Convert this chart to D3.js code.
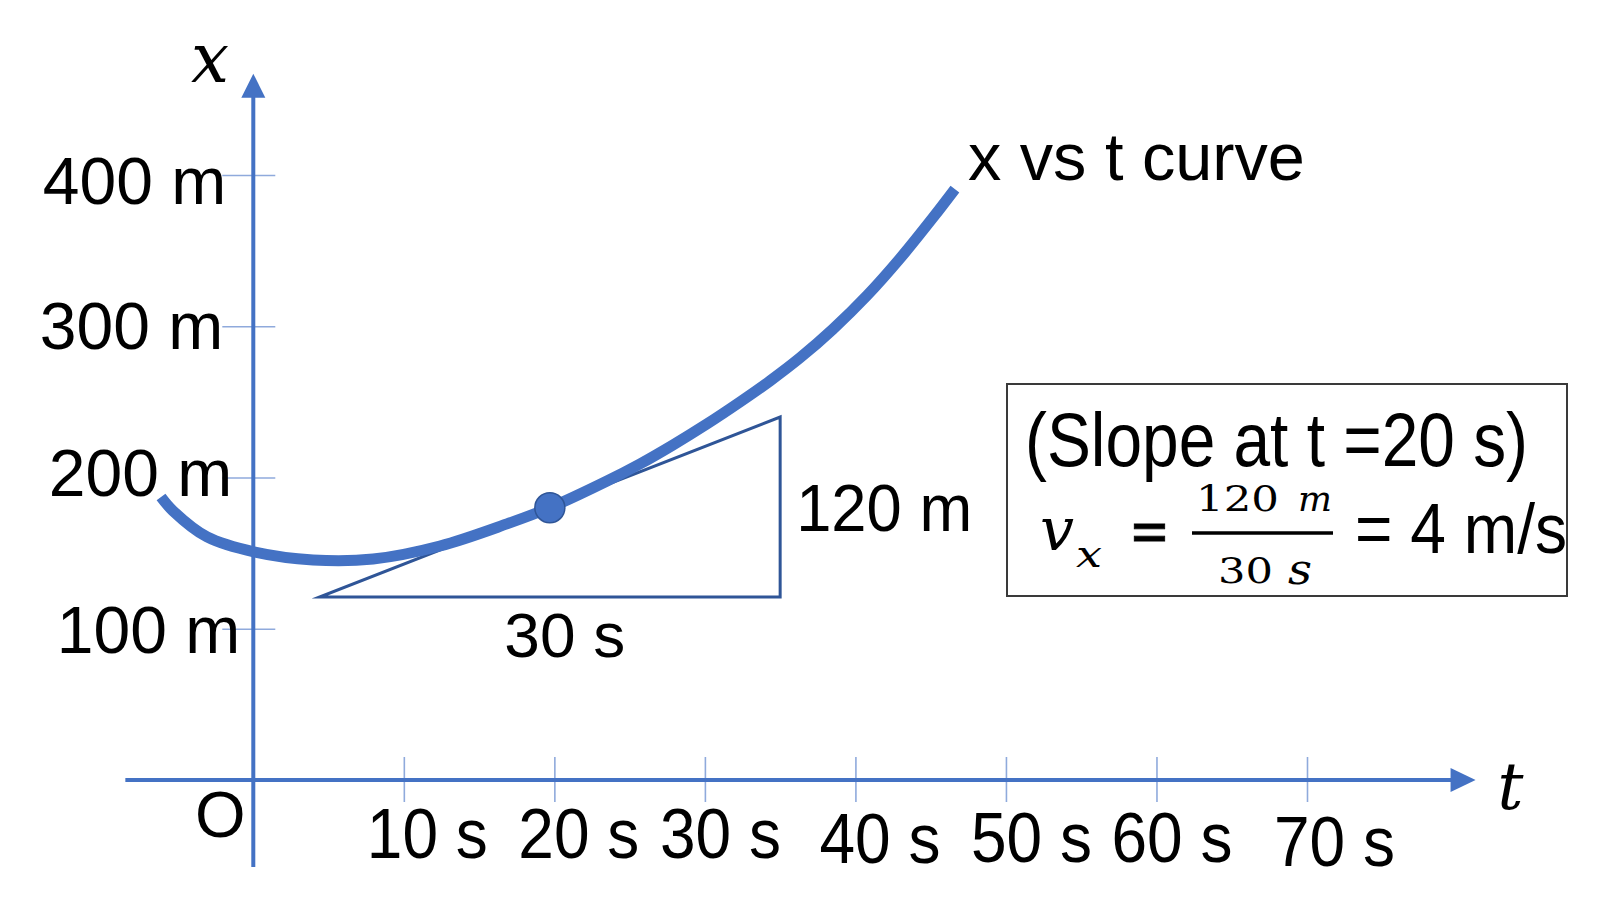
<!DOCTYPE html>
<html><head><meta charset="utf-8">
<script src="https://cdn.jsdelivr.net/npm/d3@7/dist/d3.min.js"></script>
<style>html,body{margin:0;padding:0;background:#fff;}svg{display:block;}</style>
</head><body>
<svg id="chart" width="1614" height="922"></svg>
<script>
// ---- data ----
const curveT = [-6.13, -5.33, -3.07, 0.11, 3.97, 7.96, 12.4, 16.85, 19.64, 23.5, 25.68, 27.88, 30.14, 32.33, 34.32, 36.32, 38.51, 40.77, 42.96, 45.15, 46.61];
const curveX = [187.1, 177.9, 160.7, 150.7, 145.5, 146.1, 154.7, 169.3, 179.8, 197.7, 208.9, 221.5, 235.4, 249.9, 263.8, 279.1, 298.1, 320.3, 344.8, 371.8, 390.7];
const tickT = [10, 20, 30, 40, 50, 60, 70];
const tickTLabels = ["10 s", "20 s", "30 s", "40 s", "50 s", "60 s", "70 s"];
const tickX = [100, 200, 300, 400];
const tickXLabels = ["100 m", "200 m", "300 m", "400 m"];
const triT = [4.4, 35, 35];
const triX = [121, 121, 240];
const pointT = [19.7];
const pointX = [180];
const curveLabel = "x vs t curve";
const riseLabel = "120 m";
const runLabel = "30 s";
const slopeTitle = "(Slope at t =20 s)";
const resultText = "= 4 m/s";
// axis extents (data units)
const tExtent = [-8.5, 81.2];
const xExtent = [-57.5, 467];

// ---- layout (hand-placed label nudges, px) ----
const tLabelNudge = [[23, 78], [24, 78], [15, 78], [24, 83], [25, 82], [15, 82], [27, 86]];
const xLabelNudge = [[-13, 24], [-21, 17.5], [-30, 22], [-27, 28]];

const svg = d3.select("#chart");
const BLUE = "#4472C4", TICK = "#8FAADC", DARK = "#2F5597";
const SANS = "'Liberation Sans', Arial, Helvetica, sans-serif";
const SERIF = "'DejaVu Serif', 'Liberation Serif', serif";

const x = d3.scaleLinear().domain([0, 70]).range([253.3, 1307]);
const y = d3.scaleLinear().domain([0, 400]).range([780, 175]);

// ---- x axis (t) ----
const gx = svg.append("g").attr("transform", `translate(0,${y(0)})`)
  .call(d3.axisBottom(x).tickValues(tickT).tickFormat((d, i) => tickTLabels[i]).tickSize(22));
gx.select(".domain").remove();
gx.selectAll(".tick line").attr("y1", -23).attr("stroke", TICK).attr("stroke-width", 1.6);
gx.selectAll(".tick text").attr("x", (d, i) => tLabelNudge[i][0]).attr("y", (d, i) => tLabelNudge[i][1]).attr("dy", 0)
  .attr("font-family", SANS).attr("font-size", 70).attr("fill", "#000")
  .attr("text-anchor", "middle").attr("textLength", 121).attr("lengthAdjust", "spacingAndGlyphs");

// ---- y axis (x) ----
const gy = svg.append("g").attr("transform", `translate(${x(0)},0)`)
  .call(d3.axisLeft(y).tickValues(tickX).tickFormat((d, i) => tickXLabels[i]).tickSize(31));
gy.select(".domain").remove();
gy.selectAll(".tick line").attr("x1", 22).attr("stroke", TICK).attr("stroke-width", 1.6);
gy.selectAll(".tick text").attr("x", (d, i) => xLabelNudge[i][0]).attr("y", (d, i) => xLabelNudge[i][1]).attr("dy", 0)
  .attr("font-family", SANS).attr("font-size", 66).attr("fill", "#000").attr("text-anchor", "end");

// axis lines with arrows
const xa0 = x(tExtent[0]), xa1 = x(tExtent[1]);
svg.append("line").attr("x1", xa0).attr("x2", xa1 - 24).attr("y1", y(0)).attr("y2", y(0))
  .attr("stroke", BLUE).attr("stroke-width", 4);
svg.append("path").attr("d", `M${xa1},${y(0)} L${xa1 - 25},${y(0) - 12} L${xa1 - 25},${y(0) + 12} Z`).attr("fill", BLUE);
const ya0 = y(xExtent[0]), ya1 = y(xExtent[1]);
svg.append("line").attr("x1", x(0)).attr("x2", x(0)).attr("y1", ya0).attr("y2", ya1 + 23)
  .attr("stroke", BLUE).attr("stroke-width", 4);
svg.append("path").attr("d", `M${x(0)},${ya1} L${x(0) - 12},${ya1 + 24} L${x(0) + 12},${ya1 + 24} Z`).attr("fill", BLUE);

// axis titles and origin
svg.append("text").attr("x", 191).attr("y", 82).attr("font-family", SERIF).attr("font-style", "italic")
  .attr("font-size", 70).attr("textLength", 38).attr("lengthAdjust", "spacingAndGlyphs").text("x");
svg.append("text").attr("x", xa1 + 22).attr("y", 809).attr("font-family", SERIF).attr("font-style", "italic")
  .attr("font-size", 66).attr("textLength", 26).attr("lengthAdjust", "spacingAndGlyphs").text("t");
svg.append("text").attr("x", x(0) - 33).attr("y", 837).attr("font-family", SANS).attr("font-size", 65)
  .attr("text-anchor", "middle").text("O");

// ---- tangent triangle ----
const tri = triT.map((t, i) => [x(t), y(triX[i])]);
svg.append("path").attr("d", d3.line()(tri) + "Z").attr("fill", "none").attr("stroke", DARK)
  .attr("stroke-width", 3).attr("stroke-linejoin", "miter").attr("stroke-miterlimit", 20);

// ---- curve ----
const curveData = curveT.map((t, i) => ({ t, x: curveX[i] }));
svg.append("path").datum(curveData)
  .attr("d", d3.line().x(d => x(d.t)).y(d => y(d.x)).curve(d3.curveCatmullRom.alpha(0.5)))
  .attr("fill", "none").attr("stroke", BLUE).attr("stroke-width", 11).attr("stroke-linecap", "butt");

// point
svg.selectAll("circle.pt").data(pointT).enter().append("circle").attr("class", "pt")
  .attr("cx", d => x(d)).attr("cy", (d, i) => y(pointX[i])).attr("r", 15)
  .attr("fill", BLUE).attr("stroke", DARK).attr("stroke-width", 1.5);

// labels
const last = curveData[curveData.length - 1];
svg.append("text").attr("x", x(last.t) + 13).attr("y", y(last.x) - 9).attr("font-family", SANS)
  .attr("font-size", 66).attr("textLength", 337).attr("lengthAdjust", "spacingAndGlyphs").text(curveLabel);
const triR = x(triT[1]), triB = y(triX[0]), triTop = y(triX[2]), triL = x(triT[0]);
svg.append("text").attr("x", triR + 16).attr("y", (triB + triTop) / 2 + 24).attr("font-family", SANS)
  .attr("font-size", 66).attr("textLength", 176).attr("lengthAdjust", "spacingAndGlyphs").text(riseLabel);
svg.append("text").attr("x", (triL + triR) / 2 + 15).attr("y", triB + 60).attr("font-family", SANS)
  .attr("font-size", 63).attr("text-anchor", "middle").attr("textLength", 121).attr("lengthAdjust", "spacingAndGlyphs").text(runLabel);

// ---- formula box ----
const box = svg.append("g");
box.append("rect").attr("x", 1007).attr("y", 384).attr("width", 560).attr("height", 212)
  .attr("fill", "none").attr("stroke", "#3a3a3a").attr("stroke-width", 2);
box.append("text").attr("x", 1025).attr("y", 466).attr("font-family", SANS).attr("font-size", 76)
  .attr("textLength", 503).attr("lengthAdjust", "spacingAndGlyphs").text(slopeTitle);
box.append("text").attr("x", 1040).attr("y", 550).attr("font-family", SERIF).attr("font-style", "italic")
  .attr("font-size", 60).attr("textLength", 34).attr("lengthAdjust", "spacingAndGlyphs").text("v");
box.append("text").attr("x", 1076).attr("y", 567).attr("font-family", SERIF).attr("font-style", "italic")
  .attr("font-size", 38).attr("textLength", 26).attr("lengthAdjust", "spacingAndGlyphs").text("x");
box.append("text").attr("x", 1129).attr("y", 552).attr("font-family", SERIF)
  .attr("font-size", 62).attr("textLength", 41).attr("lengthAdjust", "spacingAndGlyphs")
  .attr("stroke", "#000").attr("stroke-width", 0.8).text("=");
box.append("text").attr("x", 1196).attr("y", 511).attr("font-family", SERIF)
  .attr("font-size", 35).attr("textLength", 83).attr("lengthAdjust", "spacingAndGlyphs").text("120");
box.append("text").attr("x", 1298).attr("y", 511).attr("font-family", SERIF).attr("font-style", "italic")
  .attr("font-size", 36).attr("textLength", 34).attr("lengthAdjust", "spacingAndGlyphs").text("m");
box.append("line").attr("x1", 1192).attr("x2", 1333).attr("y1", 533).attr("y2", 533)
  .attr("stroke", "#000").attr("stroke-width", 3.5);
box.append("text").attr("x", 1218).attr("y", 583).attr("font-family", SERIF)
  .attr("font-size", 35).attr("textLength", 55).attr("lengthAdjust", "spacingAndGlyphs").text("30");
box.append("text").attr("x", 1288).attr("y", 584).attr("font-family", SERIF).attr("font-style", "italic")
  .attr("font-size", 42).attr("textLength", 24).attr("lengthAdjust", "spacingAndGlyphs").text("s");
box.append("text").attr("x", 1355).attr("y", 553).attr("font-family", SANS).attr("font-size", 70)
  .attr("textLength", 212).attr("lengthAdjust", "spacingAndGlyphs").text(resultText);
</script>
</body></html>
